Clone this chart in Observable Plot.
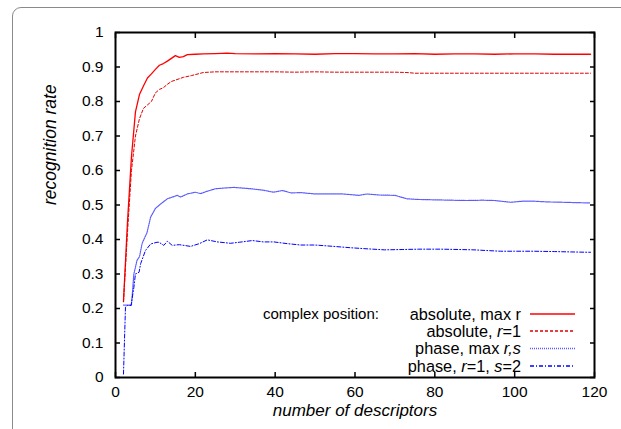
<!DOCTYPE html>
<html><head><meta charset="utf-8">
<script src="https://cdn.jsdelivr.net/npm/d3@7"></script>
<script src="https://cdn.jsdelivr.net/npm/@observablehq/plot@0.6"></script>
<style>
html,body{margin:0;padding:0;background:#fff;overflow:hidden;}
#wrap{position:relative;width:621px;height:429px;overflow:hidden;}
#border{position:absolute;left:12px;top:7px;width:700px;height:600px;border:1px solid #8a8a8a;border-radius:9px;}
#chart{position:absolute;left:0;top:0;}
</style></head><body>
<div id="wrap"><div id="border"></div><div id="chart"></div></div>
<script>
// ---- data ----
const absMaxX = [2,3,4,5,6,7,8,9,10,11,12,13,14,15,16,17,18,20,22,25,28,30,35,40,45,50,55,60,65,70,75,80,85,90,95,100,105,110,115,119];
const absMaxY = [0.22,0.45,0.64,0.77,0.82,0.845,0.868,0.88,0.893,0.905,0.91,0.917,0.925,0.933,0.928,0.93,0.936,0.937,0.938,0.939,0.940,0.939,0.938,0.939,0.938,0.937,0.939,0.939,0.938,0.938,0.939,0.937,0.938,0.938,0.937,0.938,0.938,0.937,0.937,0.937];

const absR1X = [2,3,4,5,6,7,8,9,10,11,12,13,14,15,17,19,20,22,25,30,35,40,45,50,55,60,65,70,73,75,80,85,90,95,100,105,110,115,119];
const absR1Y = [0.22,0.42,0.60,0.70,0.75,0.78,0.79,0.80,0.825,0.835,0.84,0.85,0.858,0.862,0.870,0.875,0.878,0.884,0.886,0.886,0.886,0.886,0.885,0.886,0.885,0.885,0.885,0.885,0.884,0.882,0.882,0.882,0.882,0.882,0.882,0.882,0.882,0.882,0.882];

const phaseMaxX = [2,2.5,3,4,4.6,5.4,6,6.7,7.9,8.8,10,11.3,13,15.5,16.3,18,20,21.3,23,25,27,29.6,32,34,37,39.6,41.8,44,46.4,50,54,57,61,63,66,70,73,76,80,84,88,92,95,99,102,105,108,112,115,119];
const phaseMaxY = [0.21,0.21,0.21,0.21,0.30,0.34,0.35,0.39,0.42,0.465,0.49,0.503,0.518,0.528,0.523,0.532,0.537,0.533,0.54,0.547,0.549,0.551,0.549,0.547,0.543,0.537,0.542,0.535,0.536,0.532,0.532,0.532,0.528,0.532,0.529,0.528,0.518,0.516,0.515,0.514,0.513,0.514,0.513,0.508,0.511,0.511,0.509,0.508,0.507,0.506];

const phaseR1S2X = [2,2.5,3,3.9,4.6,5,5.9,6.3,7.5,8.8,10.4,10.9,12.1,13,14.2,16,18.8,21,23,25.5,28.8,31,34.3,37,39.7,43,46.4,50,54.7,59,63,67.4,72,76,81.5,86,89.8,93,96.5,100,104.8,110,114,118.2,119];
const phaseR1S2Y = [0.01,0.204,0.209,0.209,0.261,0.30,0.305,0.33,0.368,0.387,0.392,0.392,0.383,0.395,0.383,0.385,0.380,0.388,0.399,0.393,0.389,0.392,0.397,0.393,0.393,0.388,0.384,0.384,0.380,0.376,0.373,0.370,0.371,0.372,0.372,0.371,0.370,0.368,0.366,0.366,0.366,0.365,0.364,0.363,0.363];

const xTicks = [0,20,40,60,80,100,120];
const yTicks = [0,0.1,0.2,0.3,0.4,0.5,0.6,0.7,0.8,0.9,1];
const yTickLabels = ["0","0.1","0.2","0.3","0.4","0.5","0.6","0.7","0.8","0.9","1"];

const xTitle = "number of descriptors";
const yTitle = "recognition rate";
const legendTitle = "complex position:";
const legendLabels = [
  [["absolute, max r", false]],
  [["absolute, ", false], ["r", true], ["=1", false]],
  [["phase, max ", false], ["r,s", true]],
  [["phase, ", false], ["r", true], ["=1, ", false], ["s", true], ["=2", false]]
];

// ---- styles ----
const seriesStyles = [
  {stroke: "#ff0000", strokeWidth: 1.3, dash: null},
  {stroke: "#e00000", strokeWidth: 1, dash: "3,2"},
  {stroke: "#5a5aff", strokeWidth: 1.2, dash: "1,1"},
  {stroke: "#0000ff", strokeWidth: 1, dash: "4,2,1,2"}
];
const seriesData = [
  absMaxX.map((x, i) => ({x, y: absMaxY[i]})),
  absR1X.map((x, i) => ({x, y: absR1Y[i]})),
  phaseMaxX.map((x, i) => ({x, y: phaseMaxY[i]})),
  phaseR1S2X.map((x, i) => ({x, y: phaseR1S2Y[i]}))
];

const W = 621, H = 429, mL = 115, mR = 27, mT = 32, mB = 52;
const font = "'Liberation Sans', Arial, Helvetica, sans-serif";

const chart = Plot.plot({
  width: W, height: H,
  marginLeft: mL, marginRight: mR, marginTop: mT, marginBottom: mB,
  style: {fontFamily: font, fontSize: "15px", background: "transparent", color: "#000", overflow: "visible"},
  x: {domain: [0, 120], label: null},
  y: {domain: [0, 1], label: null},
  marks: [
    ...seriesData.map((d, i) => Plot.line(d, {
      x: "x", y: "y",
      stroke: seriesStyles[i].stroke,
      strokeWidth: seriesStyles[i].strokeWidth,
      strokeDasharray: seriesStyles[i].dash
    })),
    Plot.axisX(xTicks, {anchor: "bottom", tickSize: -5, tickPadding: 13, strokeWidth: 1.5, fontSize: 15.5, label: null}),
    Plot.axisX(xTicks, {anchor: "top", tickSize: -5, tickFormat: () => "", strokeWidth: 1.5, label: null}),
    Plot.axisY(yTicks, {anchor: "left", tickSize: -5, tickPadding: 17, strokeWidth: 1.5, fontSize: 15.5, label: null,
      tickFormat: (d) => yTickLabels[yTicks.indexOf(d)]}),
    Plot.axisY(yTicks, {anchor: "right", tickSize: -5, tickFormat: () => "", strokeWidth: 1.5, label: null}),
    Plot.frame({stroke: "#000", strokeWidth: 2}),
    Plot.text([xTitle], {frameAnchor: "bottom", dy: 38, text: (d) => d, fontStyle: "italic", fontSize: 17}),
    Plot.text([yTitle], {frameAnchor: "left", dx: -65, rotate: -90, text: (d) => d, fontStyle: "italic", fontSize: 17.5})
  ]
});
document.getElementById("chart").appendChild(chart);

// ---- legend (inside frame, bottom right) ----
const svg = d3.select(chart);
const frameRight = W - mR, frameBottom = H - mB;
const rowY = [frameBottom - 63, frameBottom - 46, frameBottom - 28.5, frameBottom - 11];
const lg = svg.append("g")
  .style("font-family", font).style("font-size", "16.3px").style("fill", "#000");
lg.append("text").attr("x", 263).attr("y", rowY[0]).attr("dy", "0.35em")
  .style("text-anchor", "start").style("font-size", "15px").text(legendTitle);
legendLabels.forEach((parts, i) => {
  const t = lg.append("text").attr("x", frameRight - 73).attr("y", rowY[i]).attr("dy", "0.35em")
    .style("text-anchor", "end");
  parts.forEach(([s, it]) => t.append("tspan").style("font-style", it ? "italic" : "normal").text(s));
  lg.append("line").attr("x1", frameRight - 64).attr("x2", frameRight - 19)
    .attr("y1", rowY[i]).attr("y2", rowY[i])
    .attr("stroke", seriesStyles[i].stroke).attr("stroke-width", seriesStyles[i].strokeWidth + 0.3)
    .attr("stroke-dasharray", seriesStyles[i].dash);
});
</script>
</body></html>
